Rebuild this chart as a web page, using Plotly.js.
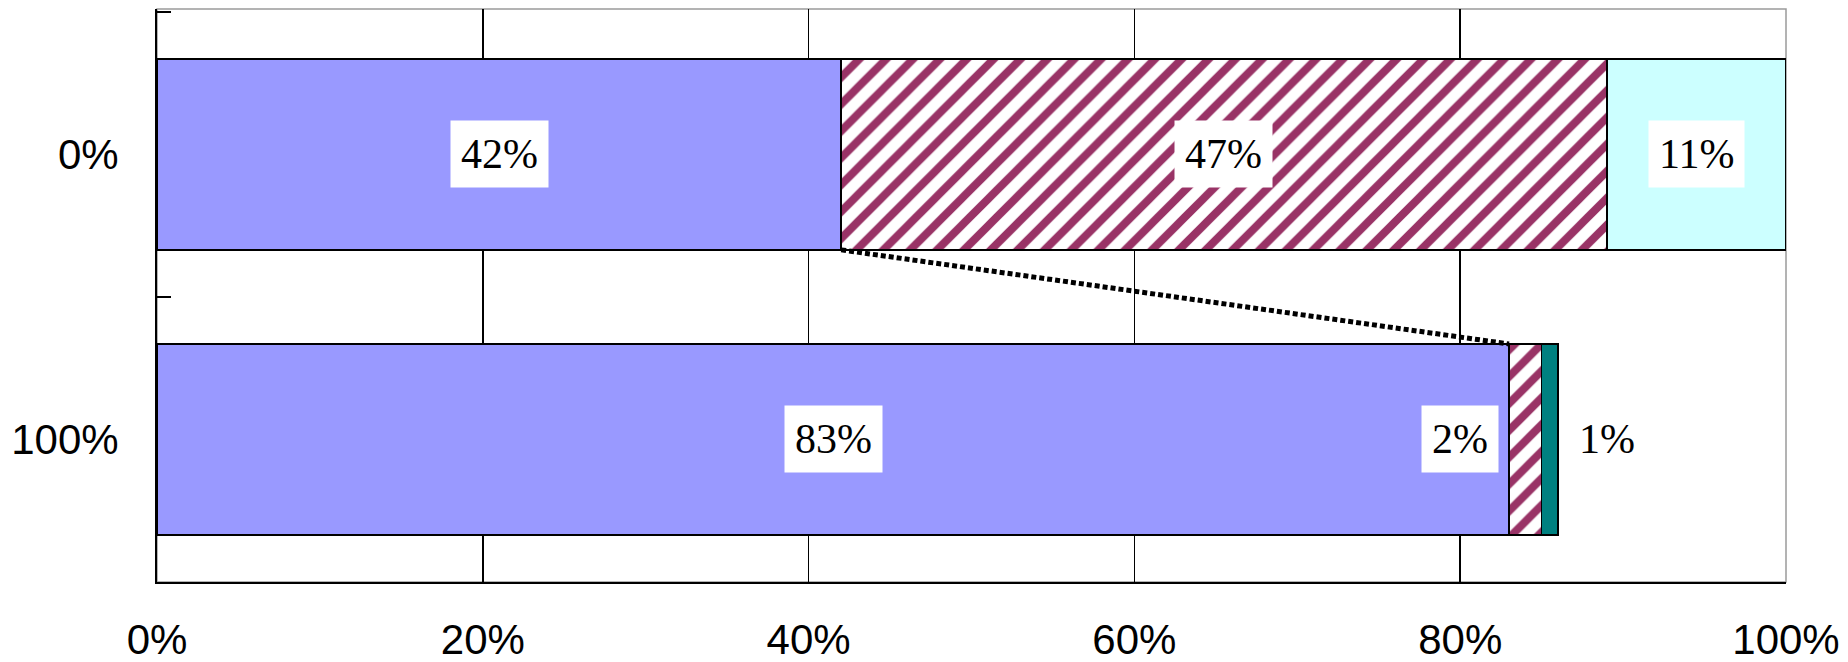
<!DOCTYPE html>
<html>
<head>
<meta charset="utf-8">
<script src="https://cdn.plot.ly/plotly-3.0.1.min.js"></script>
<style>html,body{margin:0;padding:0;background:#fff;}#chart{width:1848px;height:662px;}</style>
</head>
<body>
<div id="chart"></div>
<script>
// ---- data ----
const categories = ["0%", "100%"];
const seriesA = [42, 83];     // blue
const seriesB = [47, 2];      // hatched
const seriesC = [11, null];   // light cyan
const seriesD = [null, 1];    // teal
const labelsA = ["42%", "83%"];
const labelsB = ["47%", "2%"];
const labelsC = ["11%", ""];
const labelsD = ["", "1%"];
const xTickVals = [0, 20, 40, 60, 80, 100];
const xTickText = ["0%", "20%", "40%", "60%", "80%", "100%"];

// ---- style ----
const BARGAP = 0.33;
const outline = {color: "#000", width: 1.5};
const series = [
  {vals: seriesA, labels: labelsA, marker: {color: "#9999FF", line: outline}, place: ["center", "center"]},
  {vals: seriesB, labels: labelsB, marker: {color: "#ffffff", line: outline,
      pattern: {shape: "/", fgcolor: "#993366", bgcolor: "#ffffff", size: 19, solidity: 0.42, fillmode: "replace"}},
      place: ["center", "left"]},
  {vals: seriesC, labels: labelsC, marker: {color: "#CCFFFF", line: outline}, place: ["center", "center"]},
  {vals: seriesD, labels: labelsD, marker: {color: "#008080", line: outline}, place: ["center", "right"]}
];
const sideOffset = 3;

const traces = series.map(s => ({
  type: "bar", orientation: "h",
  y: categories, x: s.vals,
  marker: s.marker, hoverinfo: "x", showlegend: false
}));

// annotations from cumulative data
const annotations = [];
const base = categories.map(() => 0);
series.forEach(s => {
  s.vals.forEach((v, i) => {
    if (v === null || v === undefined) return;
    const start = base[i], end = base[i] + v;
    base[i] = end;
    if (!s.labels[i]) return;
    let xpos = start + v / 2;
    if (s.place[i] === "left") xpos = start - sideOffset;
    if (s.place[i] === "right") xpos = end + sideOffset;
    annotations.push({
      x: xpos, y: categories[i], xref: "x", yref: "y",
      text: s.labels[i], showarrow: false,
      font: {family: "Liberation Serif, Times New Roman, serif", size: 42, color: "#000"},
      bgcolor: "#ffffff", borderpad: 10
    });
  });
});

const half = (1 - BARGAP) / 2;
const shapes = [
  {type: "rect", xref: "paper", yref: "paper", x0: 0, x1: 1, y0: 0, y1: 1,
   line: {color: "#9a9a9a", width: 1.5}, layer: "below"},
  {type: "line", xref: "x", yref: "y",
   x0: seriesA[0], y0: 0 + half, x1: seriesA[1], y1: 1 - half,
   line: {color: "#000", width: 5, dash: "5px,3px"}, layer: "above"}
];

const tickFont = {family: "Liberation Sans, Arial, sans-serif", size: 42, color: "#000"};

const layout = {
  width: 1848, height: 662,
  margin: {l: 157, r: 62, t: 9, b: 80, pad: 0},
  paper_bgcolor: "#fff", plot_bgcolor: "#fff",
  barmode: "stack", bargap: BARGAP,
  showlegend: false,
  xaxis: {
    range: [0, 100], tickvals: xTickVals, ticktext: xTickText,
    showgrid: true, gridcolor: "#000", gridwidth: 1.5,
    showline: true, linecolor: "#000", linewidth: 2,
    ticks: "inside", ticklen: 14, tickcolor: "#000", tickwidth: 1.5,
    zeroline: false, tickfont: tickFont, ticklabelstandoff: 20
  },
  yaxis: {
    type: "category", categoryarray: categories, categoryorder: "array",
    range: [1.5, -0.51],
    showgrid: false, zeroline: false,
    showline: true, linecolor: "#000", linewidth: 2,
    ticks: "inside", tickson: "boundaries", ticklen: 14, tickcolor: "#000", tickwidth: 1.5,
    tickfont: tickFont, ticklabelstandoff: 28
  },
  annotations: annotations,
  shapes: shapes
};

Plotly.newPlot("chart", traces, layout, {staticPlot: true, displayModeBar: false});
</script>
</body>
</html>
